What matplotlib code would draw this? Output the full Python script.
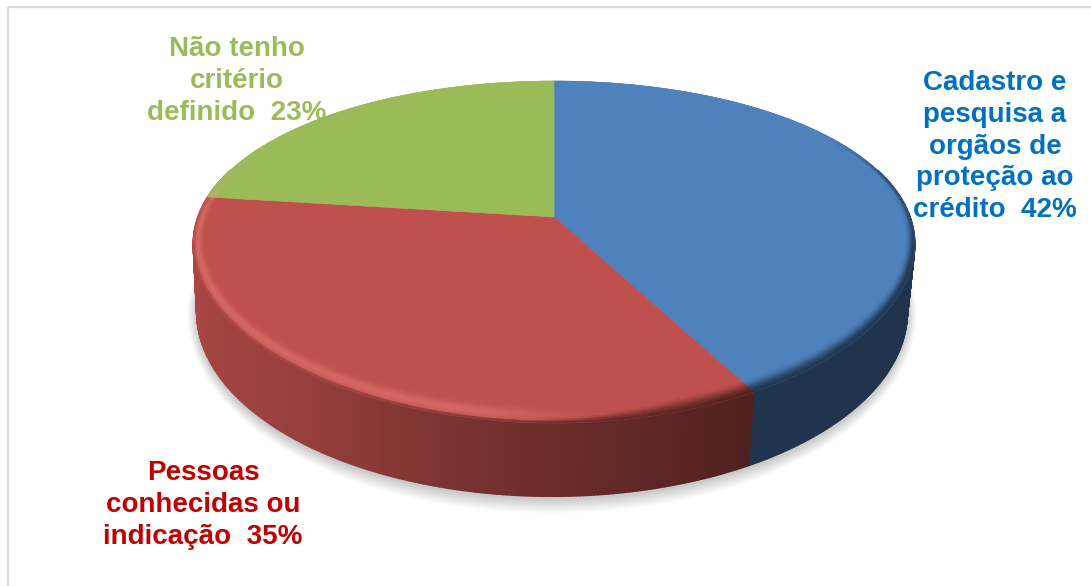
import numpy as np
import matplotlib
matplotlib.use("Agg")
import matplotlib.pyplot as plt
from matplotlib.collections import PolyCollection
from matplotlib.patches import Polygon

# Survey shares, clockwise from twelve o'clock
categories = ["Cadastro e\npesquisa a\norgãos de\nproteção ao\ncrédito", "Pessoas\nconhecidas ou\nindicação", "Não tenho\ncritério\ndefinido"]
shares = [42, 35, 23]
face_colors = ["#4f81bd", "#c0504d", "#9bbb59"]
label_colors = ["#0070c0", "#c00000", "#9bbb59"]
label_centers = [(995, 146.5), (203, 505), (237, 81)]

W, H = 1091, 586
fig = plt.figure(figsize=(W / 100, H / 100), dpi=100, facecolor="white")
ax = fig.add_axes([0, 0, 1, 1])
ax.set_xlim(0, W)
ax.set_ylim(H, 0)
ax.axis("off")

CX, CY = 554.0, 217.0
C_TOP, A_TOP = 0.2047, -119.4
C_X, R_TOP = 0.16, 356.0
C_BOT, A_BOT, Y_BOT = 0.157, -136.3, 282.0


def top_xy(u, v):
    """Perspective projection of a unit-disc point onto the pie's upper face."""
    return CX + R_TOP * u / (1 + C_X * v), (A_TOP * v + CY) / (1 + C_TOP * v)


def bottom_xy(u, v):
    """Matching point on the lower rim of the pie."""
    x, _ = top_xy(u, v)
    d = 1 + C_BOT * v
    return CX + (x - CX) * 0.985 - 2, (A_BOT * v + Y_BOT) / d


def rgb(c):
    return np.array(matplotlib.colors.to_rgb(c))


def smooth(a, b, x):
    t = np.clip((x - a) / (b - a), 0, 1)
    return t * t * (3 - 2 * t)


def side_color(base, u):
    # the wall darkens from the lit left side towards the right
    f = np.interp(u, [-1.0, -0.6, -0.2, 0.1, 0.48, 1.0], [0.88, 0.78, 0.62, 0.53, 0.41, 0.41])
    return base * f


def rim_color(base, th, t):
    """Colour of the rounded bevel at clockwise angle th; t runs 0 (inner) to 1 (outer)."""
    u, v = np.sin(th), np.cos(th)
    col = base.copy()
    # highlight on the lit front-left of the bevel
    lit = smooth(0.15, -0.25, u) * smooth(0.45, 0.0, v)
    bump = np.exp(-(((t - 0.62) / 0.3) ** 2))
    col = col + (np.array([1.0, 0.62, 0.60]) - col) * 0.32 * lit * bump * (base[0] > 0.6)
    # fall-off into the wall along the front
    front = smooth(0.2, -0.3, v)
    start = 0.85 - 0.6 * smooth(-0.1, 0.4, u)
    col = col + (side_color(base, u) - col) * front * smooth(start, 1.0, t)
    # thin dark line on the far right edge
    back = smooth(0.6, 0.9, u) * smooth(0.6, 0.2, v)
    col = col + (base * 0.45 - col) * back * smooth(0.6, 1.0, t) * 0.75
    return np.clip(col, 0, 1)


def rim_width(th):
    # bevel depth as a fraction of the radius, wider along the near edge
    return np.hypot(0.032 * np.sin(th), 0.08 * np.cos(th))


# slice boundaries as clockwise angles from the top
edges = np.deg2rad(np.concatenate([[0], np.cumsum(shares)]) * 3.6)
STEP = np.deg2rad(0.5)

# frame, left and top sides only reach the canvas
ax.plot([8, 8], [H, 7], color="#d9d9d9", lw=1.6, zorder=1, solid_capstyle="butt")
ax.plot([8, W], [7, 7], color="#d9d9d9", lw=1.6, zorder=1, solid_capstyle="butt")

# soft drop shadow underneath the pie
ring = np.linspace(0, 2 * np.pi, 360)
bx, by = bottom_xy(np.sin(ring), np.cos(ring))
mx, my = bx.mean(), by.mean()
for k in range(18, 0, -1):
    sx = 1 + k * 0.5 / 356
    sy = 1 + k * 0.75 / 180
    pts = np.column_stack([mx + (bx - mx) * sx, my + (by - my) * sy + 2])
    ax.add_patch(Polygon(pts, closed=True, fc="black", ec="none", alpha=0.012, zorder=2))

# wall, drawn as overlapping strips so it can carry a gradient without seams
wall_polys, wall_cols = [], []
for i, base_hex in enumerate(face_colors):
    base = rgb(base_hex)
    a = np.arange(edges[i], edges[i + 1] + STEP / 2, STEP)
    a[-1] = edges[i + 1]
    for t0, t1 in zip(a[:-1], a[1:]):
        if np.cos((t0 + t1) / 2) > 0.3:
            continue
        x0, y0 = top_xy(np.sin(t0), np.cos(t0))
        x1, y1 = top_xy(np.sin(t1), np.cos(t1))
        x2, y2 = bottom_xy(np.sin(t1), np.cos(t1))
        x3, y3 = bottom_xy(np.sin(t0), np.cos(t0))
        wall_polys.append([(x0, y0), (x1, y1), (x2, y2), (x3, y3)])
        wall_cols.append(side_color(base, np.sin((t0 + t1) / 2)))
ax.add_collection(PolyCollection(wall_polys, facecolors=wall_cols, edgecolors=wall_cols, linewidths=1.2, zorder=3))

# upper face of each slice
for i, base_hex in enumerate(face_colors):
    a = np.arange(edges[i], edges[i + 1] + STEP / 2, STEP)
    a[-1] = edges[i + 1]
    xs, ys = top_xy(np.sin(a), np.cos(a))
    pts = np.vstack([[top_xy(0.0, 0.0)], np.column_stack([xs, ys])])
    ax.add_patch(Polygon(pts, closed=True, fc=base_hex, ec=base_hex, lw=0.4, zorder=4))

# bevel around the outer edge of the upper face
rim_polys, rim_cols = [], []
N_RING = 10
ts = np.linspace(0, 1, N_RING + 1)
for i, base_hex in enumerate(face_colors):
    base = rgb(base_hex)
    a = np.arange(edges[i], edges[i + 1] + STEP / 2, STEP)
    a[-1] = edges[i + 1]
    for t0, t1 in zip(a[:-1], a[1:]):
        mid = (t0 + t1) / 2
        w = rim_width(mid)
        for r0, r1 in zip(ts[:-1], ts[1:]):
            s0, s1 = 1 - w * (1 - r0), 1 - w * (1 - r1)
            rim_polys.append([
                top_xy(np.sin(t0) * s0, np.cos(t0) * s0),
                top_xy(np.sin(t1) * s0, np.cos(t1) * s0),
                top_xy(np.sin(t1) * s1, np.cos(t1) * s1),
                top_xy(np.sin(t0) * s1, np.cos(t0) * s1),
            ])
            rim_cols.append(rim_color(base, mid, (r0 + r1) / 2))
ax.add_collection(PolyCollection(rim_polys, facecolors=rim_cols, edgecolors=rim_cols, linewidths=0.3, zorder=5))

# slice labels
for name, share, color, (lx, ly) in zip(categories, shares, label_colors, label_centers):
    ax.text(lx, ly, f"{name}  {share}%", color=color, ha="center", va="center", multialignment="center",
            family="Liberation Sans", fontweight="bold", fontsize=20, linespacing=1.28, zorder=6)

fig.savefig("out.png", dpi=100, facecolor="white")
